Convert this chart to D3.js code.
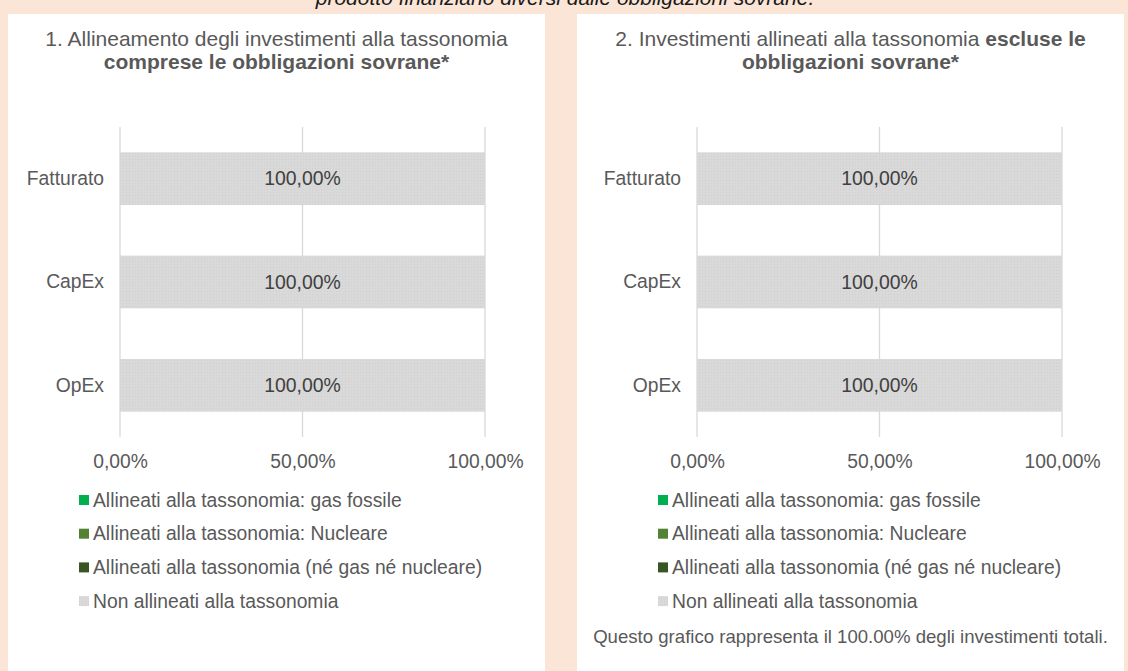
<!DOCTYPE html>
<html>
<head>
<meta charset="utf-8">
<script src="https://cdn.jsdelivr.net/npm/d3@7"></script>
<style>
  html, body { margin: 0; padding: 0; background: #fbe5d6; }
  svg { display: block; font-family: "Liberation Sans", Arial, sans-serif; }
</style>
</head>
<body>
<div id="chart"></div>
<script>
const categories = ["Fatturato", "CapEx", "OpEx"];
const seriesNames = [
  "Allineati alla tassonomia: gas fossile",
  "Allineati alla tassonomia: Nucleare",
  "Allineati alla tassonomia (né gas né nucleare)",
  "Non allineati alla tassonomia",
];
const seriesColors = ["#00b050", "#548235", "#375623", "#d9d9d9"];
// values per category, in series order (gas, nucleare, altro, non allineati)
const valuesIncl = [
  [0, 0, 0, 100],
  [0, 0, 0, 100],
  [0, 0, 0, 100],
];
const valuesExcl = [
  [0, 0, 0, 100],
  [0, 0, 0, 100],
  [0, 0, 0, 100],
];
const xTicks = [0, 50, 100];
const topNote = "prodotto finanziario diversi dalle obbligazioni sovrane.";
const bottomNote = "Questo grafico rappresenta il 100.00% degli investimenti totali.";

const size = { width: 1128, height: 671 };
const fmt = (v) => d3.format(".2f")(v).replace(".", ",") + "%";

const svg = d3
  .select("#chart")
  .append("svg")
  .attr("width", size.width)
  .attr("height", size.height);

svg.append("rect").attr("width", size.width).attr("height", size.height).attr("fill", "#fbe5d6");

// fine dotted texture of the grey bars
const pat = svg
  .append("defs")
  .append("pattern")
  .attr("id", "dots")
  .attr("width", 3)
  .attr("height", 3)
  .attr("patternUnits", "userSpaceOnUse");
pat.append("rect").attr("width", 3).attr("height", 3).attr("fill", "#d9d9d9");
pat.append("rect").attr("width", 1).attr("height", 1).attr("fill", "#cfcfcf");

svg
  .append("text")
  .text(topNote)
  .attr("x", 565)
  .attr("y", 5)
  .attr("text-anchor", "middle")
  .attr("font-style", "italic")
  .attr("font-size", "21px")
  .attr("fill", "#1a1a1a");

const panels = [
  {
    x0: 8, x1: 545,
    title: [["1. Allineamento degli investimenti alla tassonomia", false]],
    title2: [["comprese le obbligazioni sovrane*", true]],
    values: valuesIncl,
    plotX: [120, 485],
    legendX: 79,
    note: null,
  },
  {
    x0: 577, x1: 1124,
    title: [["2. Investimenti allineati alla tassonomia ", false], ["escluse le", true]],
    title2: [["obbligazioni sovrane*", true]],
    values: valuesExcl,
    plotX: [697, 1062],
    legendX: 658,
    note: bottomNote,
  },
];

panels.forEach((p) => {
  const g = svg.append("g");
  g.append("rect")
    .attr("x", p.x0)
    .attr("y", 14)
    .attr("width", p.x1 - p.x0)
    .attr("height", size.height - 14)
    .attr("fill", "#ffffff");

  const cx = (p.x0 + p.x1) / 2;
  [[p.title, 46], [p.title2, 69]].forEach(([parts, y]) => {
    const t = g
      .append("text")
      .attr("x", cx)
      .attr("y", y)
      .attr("text-anchor", "middle")
      .attr("font-size", "21px")
      .attr("fill", "#595959");
    parts.forEach(([s, bold]) => {
      t.append("tspan").text(s).attr("font-weight", bold ? "bold" : "normal");
    });
  });

  const x = d3.scaleLinear().domain([0, 100]).range(p.plotX);
  const y = d3.scaleBand().domain(categories).range([127, 437]).paddingInner(0.49).paddingOuter(0.245);

  // gridlines
  g.append("g")
    .selectAll("line")
    .data(xTicks)
    .join("line")
    .attr("x1", (d) => x(d))
    .attr("x2", (d) => x(d))
    .attr("y1", 127)
    .attr("y2", 437)
    .attr("stroke", "#d9d9d9")
    .attr("stroke-width", 1.3);

  // stacked bars
  const rows = categories.map((c, i) => {
    const o = { cat: c };
    seriesNames.forEach((s, j) => (o[s] = p.values[i][j]));
    return o;
  });
  const stacked = d3.stack().keys(seriesNames)(rows);
  stacked.forEach((layer, j) => {
    g.append("g")
      .selectAll("rect")
      .data(layer.filter((d) => d[1] - d[0] > 0))
      .join("rect")
      .attr("x", (d) => x(d[0]))
      .attr("y", (d) => y(d.data.cat))
      .attr("width", (d) => x(d[1]) - x(d[0]))
      .attr("height", y.bandwidth())
      .attr("fill", j === 3 ? "url(#dots)" : seriesColors[j]);
    g.append("g")
      .selectAll("text")
      .data(layer.filter((d) => d[1] - d[0] > 0))
      .join("text")
      .text((d) => fmt(d[1] - d[0]))
      .attr("x", (d) => x((d[0] + d[1]) / 2))
      .attr("y", (d) => y(d.data.cat) + y.bandwidth() / 2)
      .attr("dy", "0.35em")
      .attr("text-anchor", "middle")
      .attr("font-size", "19.4px")
      .attr("fill", "#404040");
  });

  // category axis
  const yAxis = g
    .append("g")
    .attr("transform", `translate(${p.plotX[0]},0)`)
    .call(d3.axisLeft(y).tickSize(0).tickPadding(16));
  yAxis.select(".domain").remove();
  yAxis.selectAll("text").attr("font-size", "19.3px").attr("font-family", "inherit").attr("fill", "#595959");

  // value axis
  const xAxis = g
    .append("g")
    .attr("transform", "translate(0,437)")
    .call(d3.axisBottom(x).tickValues(xTicks).tickSize(0).tickPadding(17).tickFormat(fmt));
  xAxis.select(".domain").remove();
  xAxis.selectAll("text").attr("font-size", "19.3px").attr("font-family", "inherit").attr("fill", "#595959");

  // legend
  const leg = g
    .append("g")
    .selectAll("g")
    .data(seriesNames)
    .join("g")
    .attr("transform", (d, i) => `translate(${p.legendX},${500 + i * 33.7})`);
  leg.append("rect")
    .attr("x", 0)
    .attr("y", -5)
    .attr("width", 10)
    .attr("height", 10)
    .attr("fill", (d, i) => (i === 3 ? "url(#dots)" : seriesColors[i]));
  leg.append("text")
    .text((d) => d)
    .attr("x", 14)
    .attr("y", 0)
    .attr("dy", "0.35em")
    .attr("font-size", "19.3px")
    .attr("fill", "#595959");

  if (p.note) {
    g.append("text")
      .text(p.note)
      .attr("x", cx)
      .attr("y", 636)
      .attr("dy", "0.35em")
      .attr("text-anchor", "middle")
      .attr("font-size", "18.6px")
      .attr("fill", "#595959");
  }
});
</script>
</body>
</html>
